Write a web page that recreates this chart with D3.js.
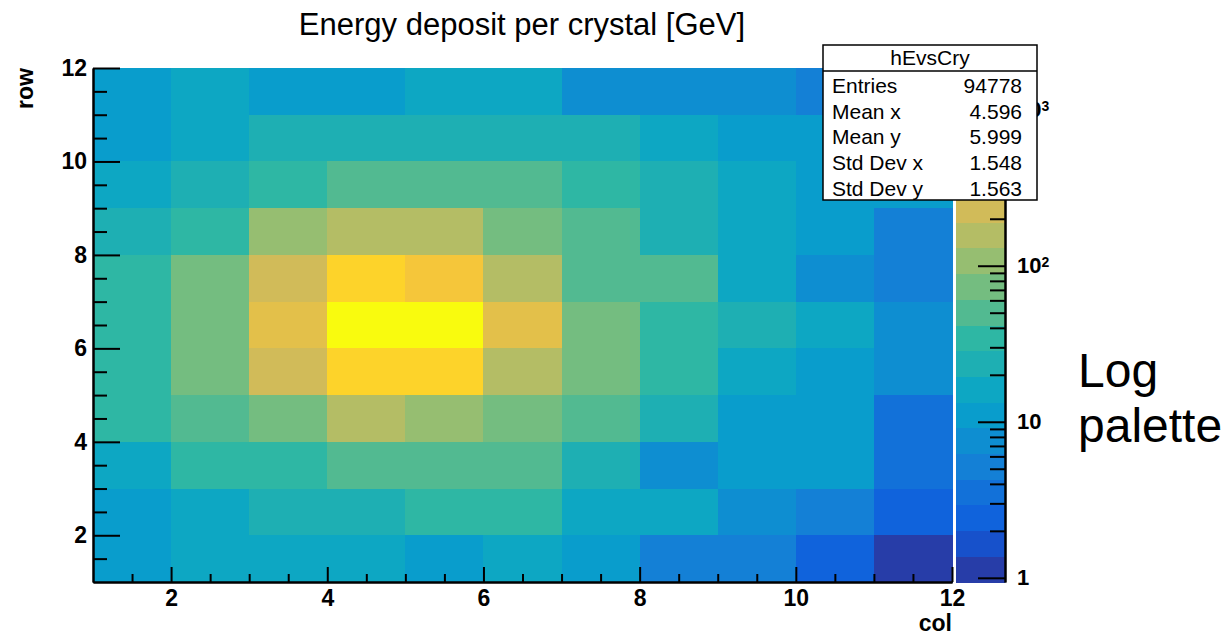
<!DOCTYPE html>
<html>
<head>
<meta charset="utf-8">
<script src="https://cdn.jsdelivr.net/npm/d3@7"></script>
<style>
    body { margin: 0; background: #fff; }
    #chart-area { width: 1225px; height: 635px; }
    text { font-family: "Liberation Sans", Arial, Helvetica, sans-serif; fill: #000; }
</style>
</head>
<body>
<div id="chart-area"></div>
<script>

/* * * * * * * * * * * * * *
*         data             *
* * * * * * * * * * * * * */

// lower edge of each column bin (col) and of each row bin (row, top to bottom)
const colLow = [1, 2, 3, 4, 5, 6, 7, 8, 9, 10, 11];
const rowLow = [11, 10, 9, 8, 7, 6, 5, 4, 3, 2, 1];

// energy per crystal, rows listed from the top row (11-12) down to row (1-2)
const cellValues = [
    [11, 16, 11, 10.5, 15, 16, 7.4, 7.6, 7.2, 5.1, 5.0],
    [11, 16, 24, 23, 24, 23, 22, 16, 11, 10.5, 7.5],
    [16, 24, 34, 50, 52, 49, 34, 23, 16, 11, 10.8],
    [23, 34, 107, 158, 155, 74, 50, 24, 16, 11, 5.2],
    [34, 73, 228, 720, 495, 157, 51, 49, 16, 7.5, 5.3],
    [35, 75, 336, 1540, 1490, 332, 74, 34, 24, 16, 7.6],
    [34, 73, 230, 710, 705, 156, 72, 35, 16, 11, 7.4],
    [35, 50, 74, 157, 108, 73, 51, 23, 11, 10.6, 3.5],
    [16, 34, 35, 51, 49, 50, 24, 7.5, 11, 11, 3.4],
    [11, 16, 24, 23, 34, 35, 16, 15, 7.6, 5.2, 2.4],
    [11, 16, 15, 16, 11, 16, 11, 5.1, 5.2, 2.5, 1.1]
];

// colour axis range and number of contour levels
const zRange = [0.94, 1850];
const nContours = 20;

// axis ticks
const axisTicks = [2, 4, 6, 8, 10, 12];
const paletteTicks = [1, 10, 100, 1000];
const paletteTickBase = ["1", "10", "10", "10"];
const paletteTickExp = ["", "", "2", "3"];
const paletteMinorTicks = [2, 3, 4, 5, 6, 7, 8, 9, 20, 30, 40, 50, 60, 70, 80, 90,
    200, 300, 400, 500, 600, 700, 800, 900];

// statistics box
const statsTitle = "hEvsCry";
const statsLabels = ["Entries", "Mean x", "Mean y", "Std Dev x", "Std Dev y"];
const statsValues = ["94778", "4.596", "5.999", "1.548", "1.563"];

// ROOT kBird palette
const birdStops = [0.0000, 0.1250, 0.2500, 0.3750, 0.5000, 0.6250, 0.7500, 0.8750, 1.0000];
const birdRed = [0.2082, 0.0592, 0.0780, 0.0232, 0.1802, 0.5301, 0.8186, 0.9956, 0.9764];
const birdGreen = [0.1664, 0.3599, 0.5041, 0.6419, 0.7178, 0.7492, 0.7328, 0.7862, 0.9832];
const birdBlue = [0.5293, 0.8684, 0.8385, 0.7914, 0.6425, 0.4662, 0.3499, 0.1968, 0.0539];


/* * * * * * * * * * * * * *
*        heatmap           *
* * * * * * * * * * * * * */

class HeatmapVis {

    constructor(parentElement) {
        this.parentElement = parentElement;
        this.initVis();
    }

    initVis() {
        let vis = this;

        vis.frame = {left: 93, right: 952, top: 68, bottom: 582};

        vis.svg = d3.select("#" + vis.parentElement).append("svg")
            .attr("width", 1225)
            .attr("height", 635);

        // scales
        vis.x = d3.scaleLinear().domain([1, 12]).range([vis.frame.left, vis.frame.right]);
        vis.y = d3.scaleLinear().domain([1, 12]).range([vis.frame.bottom, vis.frame.top]);
        vis.z = d3.scaleLog().domain(zRange).range([vis.frame.bottom, vis.frame.top]);

        // palette colours, one per contour
        let bird = d3.scaleLinear()
            .domain(birdStops)
            .range(birdStops.map((s, i) => d3.rgb(birdRed[i] * 255, birdGreen[i] * 255, birdBlue[i] * 255)));
        let bandColors = d3.range(nContours).map(k => {
            let idx = Math.floor((k + 0.99) * 255 / nContours);
            return bird(idx / 254);
        });

        vis.color = d3.scaleQuantize()
            .domain([Math.log10(zRange[0]), Math.log10(zRange[1])])
            .range(bandColors);

        vis.wrangleData();
    }

    wrangleData() {
        let vis = this;

        vis.cells = [];
        cellValues.forEach((row, r) => {
            row.forEach((v, c) => {
                vis.cells.push({col: colLow[c], row: rowLow[r], value: v});
            });
        });

        vis.updateVis();
    }

    updateVis() {
        let vis = this;

        // title
        vis.svg.append("text")
            .attr("x", 522)
            .attr("y", 35)
            .attr("text-anchor", "middle")
            .style("font-size", "31px")
            .text("Energy deposit per crystal [GeV]");

        // bins
        vis.svg.append("g").selectAll(".cell")
            .data(vis.cells)
            .enter()
            .append("rect")
            .attr("class", "cell")
            .attr("x", d => vis.x(d.col))
            .attr("y", d => vis.y(d.row + 1))
            .attr("width", d => vis.x(d.col + 1) - vis.x(d.col) + 0.5)
            .attr("height", d => vis.y(d.row) - vis.y(d.row + 1) + 0.5)
            .attr("fill", d => vis.color(Math.log10(d.value)))
            .attr("shape-rendering", "crispEdges");

        // axes
        let minorTicks = d3.range(1.5, 12.01, 0.5).filter(t => axisTicks.indexOf(t) < 0);

        vis.svg.append("g")
            .attr("class", "axis")
            .attr("transform", `translate(0, ${vis.frame.bottom})`)
            .call(d3.axisBottom(vis.x).tickValues(minorTicks).tickSizeInner(-8).tickSizeOuter(0).tickFormat(""));
        vis.svg.append("g")
            .attr("class", "axis")
            .attr("transform", `translate(0, ${vis.frame.bottom})`)
            .call(d3.axisBottom(vis.x).tickValues(axisTicks).tickSizeInner(-15).tickSizeOuter(0).tickPadding(8));

        vis.svg.append("g")
            .attr("class", "axis")
            .attr("transform", `translate(${vis.frame.left}, 0)`)
            .call(d3.axisLeft(vis.y).tickValues(minorTicks).tickSizeInner(-14).tickSizeOuter(0).tickFormat(""));
        vis.svg.append("g")
            .attr("class", "axis")
            .attr("transform", `translate(${vis.frame.left}, 0)`)
            .call(d3.axisLeft(vis.y).tickValues(axisTicks).tickSizeInner(-27).tickSizeOuter(0).tickPadding(6));

        // axis titles
        vis.svg.append("text")
            .attr("transform", `translate(33, ${vis.frame.top}) rotate(-90)`)
            .attr("text-anchor", "end")
            .style("font-size", "23px")
            .style("font-weight", "bold")
            .text("row");

        vis.svg.append("text")
            .attr("x", vis.frame.right)
            .attr("y", 631)
            .attr("text-anchor", "end")
            .style("font-size", "23px")
            .style("font-weight", "bold")
            .text("col");

        // colour palette
        let lo = Math.log10(zRange[0]), hi = Math.log10(zRange[1]);
        let edges = [lo].concat(vis.color.thresholds(), [hi]);
        let bands = vis.color.range().map((c, k) => ({color: c, from: edges[k], to: edges[k + 1]}));

        vis.svg.append("g").selectAll(".band")
            .data(bands)
            .enter()
            .append("rect")
            .attr("class", "band")
            .attr("x", 956)
            .attr("width", 49)
            .attr("y", d => vis.z(Math.pow(10, d.to)))
            .attr("height", d => vis.z(Math.pow(10, d.from)) - vis.z(Math.pow(10, d.to)) + 0.5)
            .attr("fill", d => d.color)
            .attr("shape-rendering", "crispEdges");

        vis.svg.append("g")
            .attr("class", "axis")
            .attr("transform", "translate(1005, 0)")
            .call(d3.axisRight(vis.z).tickValues(paletteMinorTicks).tickSizeInner(-15).tickSizeOuter(0).tickFormat(""));
        vis.svg.append("g")
            .attr("class", "axis palette-axis")
            .attr("transform", "translate(1005, 0)")
            .call(d3.axisRight(vis.z).tickValues(paletteTicks).tickSizeInner(-27).tickSizeOuter(0).tickPadding(12)
                .tickFormat((d, i) => paletteTickBase[i]));

        vis.svg.selectAll(".axis path, .axis line")
            .attr("stroke", "#000")
            .attr("stroke-width", 2);
        vis.svg.selectAll(".axis text")
            .attr("fill", "#000")
            .style("font-size", "23px")
            .style("font-weight", "bold");

        // exponents on the palette labels
        vis.svg.selectAll(".palette-axis text")
            .style("font-size", "22px")
            .each(function (d, i) {
                if (paletteTickExp[i] !== "") {
                    d3.select(this).append("tspan")
                        .attr("dy", "-0.45em")
                        .style("font-size", "14px")
                        .text(paletteTickExp[i]);
                }
            });

        // note on the right
        vis.svg.append("text")
            .attr("x", 1078)
            .attr("y", 387)
            .style("font-size", "48px")
            .text("Log");
        vis.svg.append("text")
            .attr("x", 1078)
            .attr("y", 442)
            .style("font-size", "48px")
            .text("palette");

        // statistics box
        let stats = vis.svg.append("g");
        stats.append("rect")
            .attr("x", 823)
            .attr("y", 45)
            .attr("width", 214)
            .attr("height", 155)
            .attr("fill", "#fff")
            .attr("stroke", "#000")
            .attr("stroke-width", 1.5);
        stats.append("line")
            .attr("x1", 823).attr("x2", 1037)
            .attr("y1", 71).attr("y2", 71)
            .attr("stroke", "#000")
            .attr("stroke-width", 1.5);
        stats.append("text")
            .attr("x", 930)
            .attr("y", 65)
            .attr("text-anchor", "middle")
            .style("font-size", "21px")
            .text(statsTitle);
        statsLabels.forEach((label, i) => {
            stats.append("text")
                .attr("x", 832)
                .attr("y", 93 + i * 25.7)
                .style("font-size", "21px")
                .text(label);
            stats.append("text")
                .attr("x", 1022)
                .attr("y", 93 + i * 25.7)
                .attr("text-anchor", "end")
                .style("font-size", "21px")
                .text(statsValues[i]);
        });
    }
}

let myHeatmapVis = new HeatmapVis("chart-area");

</script>
</body>
</html>
